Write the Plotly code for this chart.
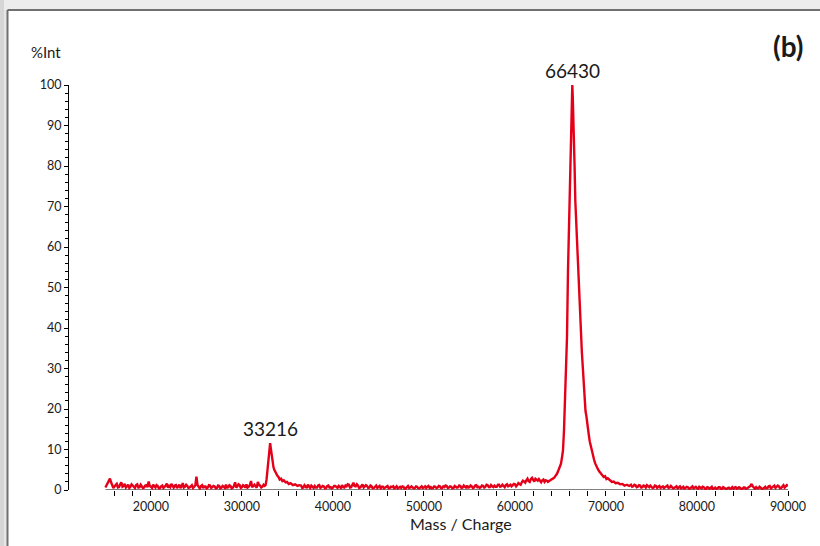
import plotly.graph_objects as go

# ---------------- data ----------------
# noise segment before the 33 kDa peak: start, step, intensities on the grid,
# plus the readings half-way between grid points
seg_a_start, seg_a_step = 15000, 250
seg_a_int = [0.6, 1.8, 2.8, 1.2, 0.9, 1.5, 0.7, 1.9, 1.0, 0.6,
             1.3, 0.8, 1.1, 0.5, 1.4, 0.7, 1.0, 0.6, 1.2, 2.1,
             0.8, 1.3, 0.6, 1.0, 0.5, 1.1, 0.7, 1.6, 1.0, 1.5,
             0.6, 1.2, 0.9, 0.5, 1.7, 0.8, 1.0, 0.6, 1.2, 0.7,
             3.3, 0.8, 1.0, 0.5, 0.9, 0.6, 1.1, 0.7, 0.9, 0.5,
             1.0, 0.6, 0.8, 1.3, 0.7, 1.0, 0.6, 1.9, 0.9, 1.2,
             0.7, 1.0, 1.4, 0.8, 2.2, 1.0, 0.9, 2.0, 1.1, 0.8,
             1.0]
seg_a_mid = [1.2, 2.2, 1.9, 0.5, 1.3, 0.6, 1.4, 0.8, 1.5, 0.9,
             0.5, 1.4, 0.6, 1.2, 0.6, 1.3, 0.5, 1.1, 0.7, 1.0,
             0.5, 0.9, 1.2, 0.4, 0.9, 0.5, 1.1, 0.6, 0.7, 0.9,
             1.1, 0.5, 1.3, 0.9, 0.6, 1.3, 0.5, 1.0, 0.5, 1.1,
             1.2, 0.4, 1.2, 0.9, 0.4, 1.2, 0.5, 1.0, 0.4, 1.1,
             0.4, 1.0, 0.5, 0.6, 1.2, 0.4, 1.0, 0.6, 1.4, 0.5,
             1.2, 0.6, 0.6, 1.3, 0.7, 1.3, 0.6, 1.2, 0.6, 1.3]

peak1_mz = [32600, 32700, 32800, 32880, 32950, 33020, 33100, 33160, 33230, 33300,
            33380, 33470, 33560, 33650, 33780, 33900, 34020, 34150, 34300, 34450,
            34600, 34800, 34950, 35150, 35350, 35600, 35850, 36100, 36300]
peak1_int = [1.2, 2.5, 5.0, 8.0, 9.5, 10.8, 11.6, 10.5, 9.2, 8.8,
             7.0, 5.6, 5.0, 4.6, 3.8, 3.5, 3.2, 2.6, 2.8, 2.2,
             2.4, 1.9, 2.0, 1.5, 1.7, 1.2, 1.4, 1.0, 1.2]

seg_b_start, seg_b_step = 36500, 250
seg_b_int = [1.1, 0.6, 0.9, 1.3, 0.5, 0.8, 1.0, 0.6, 1.2, 0.7,
             0.9, 0.5, 1.1, 0.7, 0.6, 1.0, 0.5, 0.8, 1.2, 0.6,
             0.9, 1.3, 0.7, 1.8, 0.9, 1.1, 0.6, 1.4, 0.8, 1.0,
             0.6, 0.9, 0.5, 1.1, 0.7, 0.4, 0.8, 0.6, 1.0, 0.5,
             0.7, 0.4, 0.9, 0.6, 0.5, 0.8, 0.4, 1.0, 0.6, 0.7,
             0.5, 0.8, 0.4, 0.9, 0.6, 0.5, 1.0, 0.7, 0.5, 0.8,
             0.6, 0.9, 0.5, 0.7, 1.0, 0.6, 0.8, 0.5, 0.9, 0.7,
             1.0, 0.6, 0.8, 1.1, 0.7, 0.9, 0.6, 1.2, 0.8, 0.7,
             1.0, 0.8, 1.2, 0.7, 0.9, 1.1, 0.8, 1.3, 0.9, 1.0,
             1.2, 0.9, 1.3, 1.1, 1.4]
seg_b_mid = [0.5, 1.2, 0.5, 0.7, 1.1, 0.5, 0.6, 1.1, 0.5, 1.0,
             0.4, 1.0, 0.6, 0.4, 1.0, 0.6, 1.0, 0.5, 0.7, 1.1,
             1.4, 0.6, 1.2, 1.0, 1.4, 0.5, 1.0, 0.6, 1.2, 0.5,
             1.1, 0.4, 0.9, 0.5, 1.0, 0.8, 0.4, 0.9, 0.4, 0.8,
             0.9, 0.6, 0.4, 0.8, 0.9, 0.3, 0.8, 0.5, 0.9, 0.4,
             0.9, 0.4, 0.8, 0.5, 0.9, 0.8, 0.5, 0.4, 0.9, 0.5,
             1.0, 0.5, 0.9, 1.1, 0.5, 0.9, 0.4, 1.0, 0.6, 1.1,
             0.5, 1.1, 0.6, 0.6, 1.1, 0.5, 1.1, 0.7, 0.5, 1.1,
             0.6, 1.3, 0.7, 1.2, 0.7, 0.8, 1.3, 0.8, 1.3, 0.7,
             1.4, 1.1, 0.9, 1.5]

hump_mz = [60125, 60250, 60375, 60500, 60625, 60750, 60875, 61000, 61125, 61250,
           61375, 61500, 61625, 61750, 61875, 62000, 62125, 62250, 62375, 62500,
           62625, 62750, 62875, 63000, 63125, 63250, 63375, 63500, 63625, 63750]
hump_int = [0.9, 1.2, 1.7, 1.5, 1.3, 1.9, 2.3, 2.1, 1.8, 2.4,
            2.8, 2.2, 2.0, 2.7, 3.0, 2.5, 2.1, 2.8, 2.4, 2.3,
            2.7, 2.1, 1.9, 2.4, 2.6, 2.0, 2.4, 2.3, 2.0, 2.2]

peak2_mz = [63900, 64100, 64300, 64450, 64617, 64800, 64950, 65057, 65170, 65277,
            65387, 65497, 65607, 65717, 65827, 65900, 65970, 66050, 66150, 66250,
            66300, 66350, 66450, 66550, 66630, 66800, 66992, 67100, 67256, 67350,
            67476, 67560, 67652, 67750, 67850, 67950, 68026, 68120, 68220, 68300,
            68389, 68500, 68600, 68700, 68828, 68950, 69100, 69250, 69455, 69600,
            69750, 69900, 70050, 70200, 70444, 70650, 70850, 71050, 71300, 71550,
            71800, 72050, 72300, 72550]
peak2_int = [2.4, 2.7, 3.0, 3.5, 4.0, 5.0, 5.8, 6.5, 8.1, 9.8,
             14.7, 21.3, 29.5, 37.7, 54.2, 62.0, 71.5, 80.0, 88.0, 96.0,
             100.0, 97.0, 90.0, 80.0, 71.5, 62.0, 54.2, 48.0, 37.7, 34.0,
             29.5, 26.0, 21.3, 19.5, 18.2, 15.8, 14.7, 13.5, 12.0, 11.2,
             9.8, 9.2, 7.8, 7.4, 6.5, 5.8, 5.2, 4.6, 4.0, 3.8,
             3.2, 3.4, 2.7, 2.9, 2.3, 2.0, 2.1, 1.7, 1.8, 1.4,
             1.5, 1.1, 1.3, 1.0]

seg_d_start, seg_d_step = 72750, 250
seg_d_int = [1.3, 0.9, 1.2, 0.8, 1.1, 0.7, 1.0, 1.2, 0.7, 0.9,
             0.6, 1.0, 0.8, 0.5, 0.9, 0.7, 1.1, 0.6, 0.8, 0.5,
             0.9, 0.6, 0.4, 0.8, 0.5, 0.7, 0.4, 0.9, 0.6, 0.5,
             0.8, 0.4, 0.7, 0.3, 0.6, 0.5, 0.2, 0.6, 0.4, 0.7,
             0.3, 0.5, 0.2, 0.6, 0.4, 0.3, 0.7, 0.4, 0.5, 0.3,
             0.6, 0.4, 0.8, 1.5, 0.5, 0.7, 0.4, 0.6, 0.3, 0.8,
             0.5, 1.0, 0.6, 1.1, 0.7, 0.9, 0.5, 1.2, 0.8, 1.0]
seg_d_mid = [0.8, 1.3, 0.7, 1.2, 0.6, 1.1, 0.6, 0.8, 1.1, 0.5,
             1.1, 0.5, 1.0, 0.8, 0.5, 1.0, 0.5, 1.0, 0.4, 0.8,
             0.4, 0.9, 0.7, 0.3, 0.8, 0.3, 0.8, 0.4, 0.8, 0.3,
             0.5, 0.8, 0.3, 0.7, 0.3, 0.8, 0.5, 0.3, 0.7, 0.3,
             0.7, 0.3, 0.5, 0.3, 0.7, 0.6, 0.3, 0.7, 0.2, 0.6,
             0.3, 0.7, 1.0, 0.9, 0.3, 0.4, 0.8, 0.3, 0.7, 0.4,
             0.9, 0.4, 0.8, 0.5, 1.1, 0.4, 0.8, 0.6, 1.2]

peak_labels = [(33111, 11.6, "33216"), (66300, 100.0, "66430")]
x_tick_vals = [20000, 30000, 40000, 50000, 60000, 70000, 80000, 90000]
x_tick_text = [str(v) for v in x_tick_vals]
x_minor_vals = [v for v in range(16000, 90000, 2000) if v % 10000 != 0]
y_tick_vals = list(range(0, 101, 10))


def seg(start, step, vals, mids):
    xs, ys = [], []
    for i, v in enumerate(vals):
        xs.append(start + i * step)
        ys.append(v)
        if i < len(mids):
            xs.append(start + i * step + step / 2)
            ys.append(mids[i])
    return xs, ys


mz, inten = [], []
for xs, ys in [seg(seg_a_start, seg_a_step, seg_a_int, seg_a_mid), (peak1_mz, peak1_int),
               seg(seg_b_start, seg_b_step, seg_b_int, seg_b_mid), (hump_mz, hump_int),
               (peak2_mz, peak2_int), seg(seg_d_start, seg_d_step, seg_d_int, seg_d_mid)]:
    mz += xs
    inten += ys

# ---------------- figure ----------------
W, H = 820, 546
ML, MR, MT, MB = 69, 32, 85, 56
PW, PH = W - ML - MR, H - MT - MB


def px(x):
    return (x - ML) / PW


def py(y):
    return (H - MB - y) / PH


FONT = "Lato, 'Open Sans', sans-serif"
RED = "#e5001a"

fig = go.Figure()
fig.add_trace(go.Scatter(x=mz, y=inten, mode="lines",
                         line=dict(color=RED, width=2.4), hoverinfo="skip",
                         showlegend=False))

shapes = [
    # grey frame around the white panel
    dict(type="rect", xref="paper", yref="paper", x0=px(0), x1=px(W), y0=py(0), y1=py(10),
         fillcolor="#ececec", line=dict(width=0), layer="below"),
    dict(type="rect", xref="paper", yref="paper", x0=px(0), x1=px(4), y0=py(0), y1=py(H),
         fillcolor="#d6d6d6", line=dict(width=0), layer="below"),
    dict(type="rect", xref="paper", yref="paper", x0=px(4), x1=px(8), y0=py(10), y1=py(H),
         fillcolor="#e6e6e6", line=dict(width=0), layer="below"),
    dict(type="line", xref="paper", yref="paper", x0=px(7.5), x1=px(W), y0=py(10), y1=py(10),
         line=dict(color="#707070", width=2)),
    dict(type="line", xref="paper", yref="paper", x0=px(7.5), x1=px(7.5), y0=py(10), y1=py(H),
         line=dict(color="#707070", width=2)),
    # x axis baseline only under the data range
    dict(type="line", xref="x", yref="y", x0=15000, x1=90000, y0=0, y1=0,
         line=dict(color="#000000", width=1), layer="below"),
]

annotations = [
    dict(x=x, y=y, xref="x", yref="y", text=t, showarrow=False, yanchor="bottom",
         yshift=1, font=dict(family=FONT, size=19, color="#1a1a1a"))
    for x, y, t in peak_labels
]
annotations += [
    dict(x=px(46), y=py(52), xref="paper", yref="paper", text="%Int", showarrow=False,
         xanchor="center", yanchor="middle", font=dict(family=FONT, size=15, color="#1a1a1a")),
    dict(x=px(461), y=py(523), xref="paper", yref="paper", text="Mass / Charge",
         showarrow=False, xanchor="center", yanchor="middle",
         font=dict(family=FONT, size=16, color="#1a1a1a")),
    dict(x=px(788), y=py(46), xref="paper", yref="paper", text="<b>(b)</b>",
         showarrow=False, xanchor="center", yanchor="middle",
         font=dict(family=FONT, size=28, color="#1a1a1a")),
]

fig.update_layout(
    width=W, height=H,
    margin=dict(l=ML, r=MR, t=MT, b=MB, pad=0),
    paper_bgcolor="white", plot_bgcolor="white",
    shapes=shapes, annotations=annotations,
    xaxis=dict(range=[11000, 90000], showgrid=False, zeroline=False, showline=False,
               tickmode="array", tickvals=x_tick_vals, ticktext=x_tick_text,
               ticks="outside", ticklen=5, tickwidth=1, tickcolor="#000",
               tickfont=dict(family=FONT, size=12.5, color="#1a1a1a"),
               minor=dict(tickmode="array", tickvals=x_minor_vals, ticks="outside",
                          ticklen=5, tickwidth=1, tickcolor="#000", showgrid=False)),
    yaxis=dict(range=[0, 100], showgrid=False, zeroline=False, showline=True,
               linecolor="#000", linewidth=1,
               tickmode="array", tickvals=y_tick_vals,
               ticks="outside", ticklen=4, tickwidth=1, tickcolor="#000",
               tickfont=dict(family=FONT, size=12.5, color="#1a1a1a"),
               minor=dict(dtick=2, ticks="outside", ticklen=3, tickwidth=1,
                          tickcolor="#000", showgrid=False)),
)

fig.write_html("out.html")
